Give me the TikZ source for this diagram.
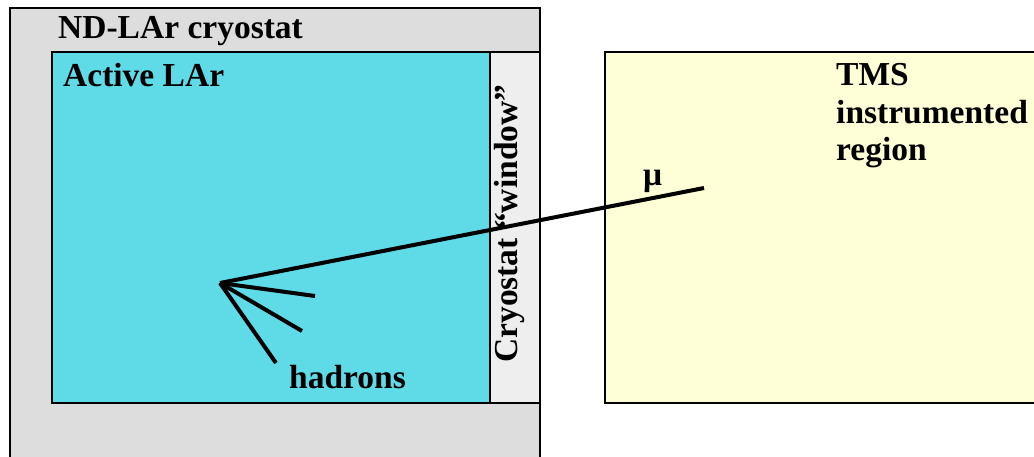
\documentclass[tikz,border=0pt]{standalone}
\usepackage{fontspec}
\setmainfont{Liberation Serif}
\definecolor{cryogray}{HTML}{DDDDDD}
\definecolor{larcyan}{HTML}{5FDBE8}
\definecolor{wingray}{HTML}{EEEEEE}
\definecolor{tmsyellow}{HTML}{FFFFD7}
\begin{document}
\begin{tikzpicture}[x=1pt,y=-1pt,
  boxline/.style={draw=black,line width=1.6pt},
  track/.style={line width=4pt},
  lbl/.style={font=\fontsize{33.5}{37.5}\selectfont\bfseries,inner sep=0pt,anchor=base west}]
\useasboundingbox (0,0) rectangle (1034,457);
\fill[white] (0,0) rectangle (1034,457);
% outer cryostat
\draw[boxline,fill=cryogray] (10,8) rectangle (540,480);
% active LAr
\draw[boxline,fill=larcyan] (52,52) rectangle (490,403);
% window
\draw[boxline,fill=wingray] (490,52) rectangle (540,403);
% TMS
\draw[boxline,fill=tmsyellow] (605,52) rectangle (1060,403);
% labels
\node[lbl] (cryo) at (58,39) {ND-LAr cryostat};
\node[lbl] (lar) at (63,87) {Active LAr};
\node[lbl,rotate=90] (win) at (517,363) {Cryostat “window”};
\node[lbl] (tms1) at (836,86) {TMS};
\node[lbl] (tms2) at (836,123.5) {instrumented};
\node[lbl] (tms3) at (836,161) {region};
\node[lbl] (mu) at (643,186) {μ};
\node[lbl] (had) at (289,388) {hadrons};
% tracks
\coordinate (vtx) at (220,283);
\coordinate (muend) at (704,188);
\coordinate (h1) at (315,296);
\coordinate (h2) at (302,331);
\coordinate (h3) at (276,363);
\draw[track] (vtx) -- (muend);
\draw[track] (vtx) -- (h1);
\draw[track] (vtx) -- (h2);
\draw[track] (vtx) -- (h3);
\end{tikzpicture}
\end{document}
